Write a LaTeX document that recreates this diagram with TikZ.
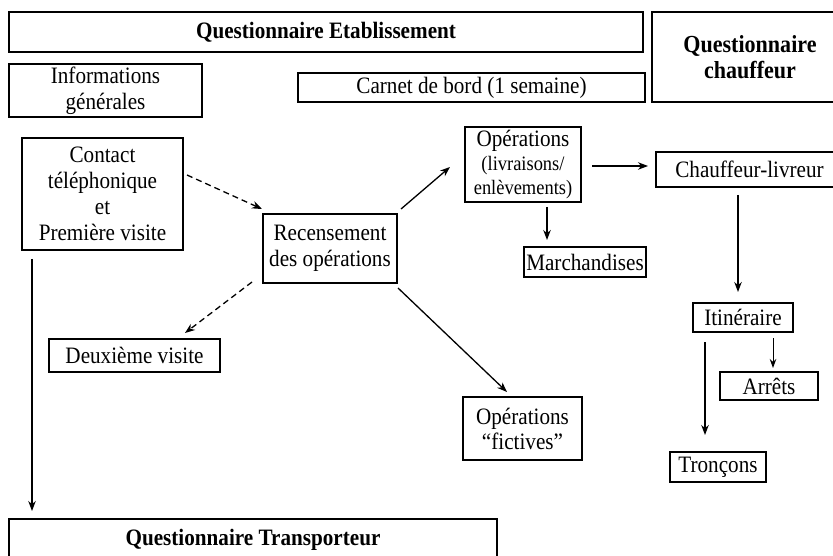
\documentclass[tikz,border=0pt]{standalone}
\usepackage{fontspec}
\setmainfont{Liberation Serif}[FakeStretch=0.9]
\usetikzlibrary{arrows.meta}
\tikzset{
  bx/.style={draw, line width=1.2pt, inner sep=0pt, align=center,
    font=\fontsize{23.5}{26}\selectfont},
  bxb/.style={bx, font=\fontsize{23.5}{26}\selectfont\bfseries},
  arr/.style={-{Stealth[length=10pt,width=7.5pt]}, line width=1.3pt},
  arrthin/.style={-{Stealth[length=9pt,width=6.5pt]}, line width=1pt},
  dsh/.style={arr, dash pattern=on 6pt off 4pt}
}
\newcommand{\smallfs}{\fontsize{20.5}{24}\selectfont}
\begin{document}
\begin{tikzpicture}[x=1pt,y=-1pt]
\useasboundingbox (0,0) rectangle (833,556);
\clip (0,0) rectangle (833,556);
\fill[white] (0,0) rectangle (833,556);
% nodes
\node[bxb, minimum width=634pt, minimum height=40pt] (qetab) at (326,32) {Questionnaire Etablissement};
\node[bxb, minimum width=196pt, minimum height=90pt, font=\fontsize{24.5}{26}\selectfont\bfseries] (qchauf) at (750,57) {Questionnaire\\chauffeur};
\node[bx, minimum width=193pt, minimum height=53pt] (info) at (105.5,90.5) {Informations\\générales};
\node[bx, minimum width=347pt, minimum height=29pt] (carnet) at (471.5,87.5) {Carnet de bord (1 semaine)};
\node[bx, minimum width=161pt, minimum height=112pt] (contact) at (102.5,194) {Contact\\téléphonique\\et\\Première visite};
\node[bx, minimum width=134pt, minimum height=69pt] (recens) at (330,248.5) {Recensement\\des opérations};
\node[bx, minimum width=171pt, minimum height=33pt] (deux) at (134.5,355.5) {Deuxième visite};
\node[bx, minimum width=116pt, minimum height=75pt, font=\fontsize{23.5}{24}\selectfont] (ops) at (523,164.5) {Opérations\\{\smallfs (livraisons/}\\{\smallfs enlèvements)}};
\node[bx, minimum width=187pt, minimum height=35pt] (chliv) at (749.5,169.5) {Chauffeur-livreur};
\node[bx, minimum width=122pt, minimum height=30pt] (march) at (585,262) {Marchandises};
\node[bx, minimum width=100pt, minimum height=29pt] (itin) at (743,317.5) {Itinéraire};
\node[bx, minimum width=98pt, minimum height=28pt] (arrets) at (769,386) {Arrêts};
\node[bx, minimum width=119pt, minimum height=63pt, font=\fontsize{23.5}{25}\selectfont] (fict) at (522.5,428.5) {Opérations\\“fictives”};
\node[bx, minimum width=96pt, minimum height=30pt] (tronc) at (718,467) {Tronçons};
\node[bxb, minimum width=488pt, minimum height=42pt] (qtrans) at (253,540) {Questionnaire Transporteur};
% connector end points
\coordinate (c1a) at (187,175); \coordinate (c1b) at (262,209);
\coordinate (c2a) at (252,282); \coordinate (c2b) at (185,333);
\coordinate (c3a) at (32,259);  \coordinate (c3b) at (32,511);
\coordinate (c4a) at (401,209); \coordinate (c4b) at (450,167);
\coordinate (c5a) at (398,288); \coordinate (c5b) at (507,392);
\coordinate (c6a) at (592,166); \coordinate (c6b) at (648,166);
\coordinate (c7a) at (547,207); \coordinate (c7b) at (547,240);
\coordinate (c8a) at (738,195); \coordinate (c8b) at (738,292);
\coordinate (c9a) at (773,338); \coordinate (c9b) at (773,368);
\coordinate (c10a) at (705,342); \coordinate (c10b) at (705,435);
% connectors
\draw[dsh] (c1a) -- (c1b);
\draw[dsh] (c2a) -- (c2b);
\draw[arr] (c3a) -- (c3b);
\draw[arr] (c4a) -- (c4b);
\draw[arr] (c5a) -- (c5b);
\draw[arr] (c6a) -- (c6b);
\draw[arr] (c7a) -- (c7b);
\draw[arr] (c8a) -- (c8b);
\draw[arrthin] (c9a) -- (c9b);
\draw[arr] (c10a) -- (c10b);
\end{tikzpicture}
\end{document}
